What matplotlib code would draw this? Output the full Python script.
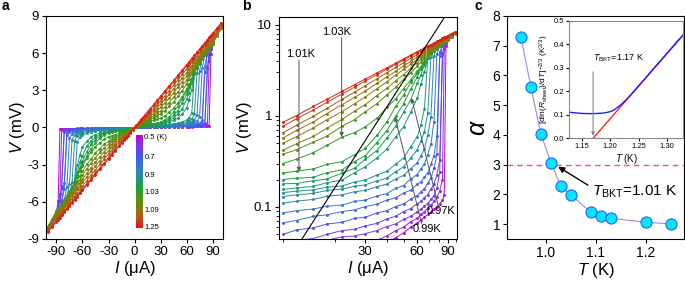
import numpy as np
import matplotlib
matplotlib.use("Agg")
import matplotlib.pyplot as plt
from matplotlib.colors import LinearSegmentedColormap
from matplotlib.ticker import FixedLocator, NullFormatter, LogLocator

plt.rcParams["font.family"] = ["Liberation Sans", "DejaVu Sans"]
plt.rcParams["mathtext.fontset"] = "custom"
plt.rcParams["mathtext.rm"] = "Liberation Sans"
plt.rcParams["mathtext.it"] = "Liberation Sans:italic"
plt.rcParams["mathtext.bf"] = "Liberation Sans:bold"
plt.rcParams["axes.unicode_minus"] = False

# ---- panel a / b : V-I curves (positive branch, a is mirrored) ----
I_uA = [2, 5, 8, 10, 12, 15, 18, 22, 26, 30, 35, 40, 45, 50, 55, 60, 63, 66,
        69, 72, 75, 78, 81, 84, 86, 88, 90, 95, 100]

v_050 = [0.004, 0.008, 0.012, 0.014, 0.016, 0.018, 0.02, 0.023, 0.026, 0.03, 0.035, 0.04, 0.046, 0.052, 0.06, 0.067, 0.072, 0.077, 0.083, 0.088, 0.094, 0.1, 0.108, 0.118, 0.135, 5.9, 6.9, 7.7, 8.2]
v_055 = [0.005, 0.01, 0.015, 0.018, 0.02, 0.023, 0.026, 0.03, 0.034, 0.038, 0.043, 0.048, 0.055, 0.06, 0.069, 0.075, 0.083, 0.088, 0.097, 0.104, 0.116, 0.128, 0.15, 0.2, 5.4, 6.4, 6.85, 7.6, 8.15]
v_060 = [0.006, 0.014, 0.025, 0.032, 0.036, 0.04, 0.043, 0.047, 0.048, 0.051, 0.055, 0.061, 0.065, 0.073, 0.079, 0.089, 0.094, 0.102, 0.109, 0.122, 0.133, 0.162, 0.24, 4.9, 5.9, 6.35, 6.75, 7.55, 8.1]
v_065 = [0.008, 0.018, 0.03, 0.038, 0.043, 0.045, 0.05, 0.055, 0.057, 0.062, 0.066, 0.074, 0.079, 0.089, 0.096, 0.109, 0.115, 0.127, 0.136, 0.157, 0.178, 0.225, 0.33, 4.7, 5.85, 6.35, 6.8, 7.55, 8.1]
v_070 = [0.01, 0.024, 0.04, 0.05, 0.056, 0.059, 0.065, 0.068, 0.075, 0.077, 0.086, 0.091, 0.101, 0.108, 0.122, 0.133, 0.147, 0.158, 0.182, 0.207, 0.265, 0.38, 4.5, 5.9, 6.3, 6.55, 6.85, 7.55, 8.1]
v_075 = [0.013, 0.032, 0.054, 0.067, 0.071, 0.079, 0.082, 0.089, 0.093, 0.101, 0.107, 0.119, 0.126, 0.142, 0.153, 0.178, 0.188, 0.213, 0.236, 0.295, 0.365, 0.6, 5.0, 6.0, 6.35, 6.6, 6.9, 7.6, 8.15]
v_080 = [0.017, 0.042, 0.07, 0.086, 0.091, 0.095, 0.102, 0.105, 0.115, 0.119, 0.132, 0.14, 0.16, 0.172, 0.203, 0.227, 0.263, 0.296, 0.375, 0.49, 0.86, 4.8, 5.85, 6.25, 6.5, 6.7, 6.95, 7.65, 8.2]
v_085 = [0.022, 0.055, 0.09, 0.11, 0.116, 0.121, 0.131, 0.136, 0.147, 0.152, 0.167, 0.178, 0.203, 0.222, 0.264, 0.305, 0.365, 0.435, 0.61, 0.98, 4.6, 5.6, 6.0, 6.35, 6.58, 6.78, 7.0, 7.7, 8.22]
v_090 = [0.026, 0.065, 0.105, 0.13, 0.136, 0.141, 0.152, 0.157, 0.169, 0.175, 0.193, 0.207, 0.244, 0.276, 0.345, 0.425, 0.53, 0.67, 1.07, 4.4, 5.4, 5.85, 6.15, 6.45, 6.65, 6.85, 7.05, 7.72, 8.25]
v_093 = [0.029, 0.072, 0.115, 0.144, 0.149, 0.154, 0.165, 0.17, 0.188, 0.198, 0.224, 0.246, 0.295, 0.344, 0.46, 0.59, 0.8, 1.18, 4.3, 5.3, 5.75, 6.05, 6.3, 6.55, 6.72, 6.9, 7.1, 7.75, 8.28]
v_095 = [0.031, 0.078, 0.125, 0.156, 0.162, 0.168, 0.185, 0.197, 0.238, 0.276, 0.345, 0.43, 0.59, 0.76, 1.1, 1.57, 2.25, 3.05, 4.3, 5.2, 5.7, 6.0, 6.3, 6.55, 6.72, 6.9, 7.1, 7.75, 8.3]
v_097 = [0.036, 0.09, 0.145, 0.18, 0.181, 0.194, 0.203, 0.235, 0.266, 0.335, 0.415, 0.57, 0.77, 1.1, 1.5, 2.28, 2.82, 3.62, 4.4, 5.05, 5.5, 5.85, 6.15, 6.45, 6.62, 6.8, 7.0, 7.7, 8.25]
v_099 = [0.04, 0.1, 0.16, 0.2, 0.207, 0.212, 0.238, 0.256, 0.315, 0.365, 0.51, 0.69, 0.99, 1.36, 1.97, 2.68, 3.27, 3.83, 4.47, 4.95, 5.4, 5.75, 6.05, 6.35, 6.55, 6.72, 6.92, 7.6, 8.2]
v_101 = [0.048, 0.12, 0.19, 0.237, 0.247, 0.262, 0.293, 0.315, 0.375, 0.44, 0.61, 0.86, 1.27, 1.7, 2.33, 2.93, 3.42, 3.88, 4.42, 4.85, 5.25, 5.6, 5.95, 6.25, 6.45, 6.62, 6.82, 7.5, 8.1]
v_103 = [0.06, 0.15, 0.24, 0.3, 0.335, 0.395, 0.475, 0.585, 0.655, 0.76, 0.94, 1.24, 1.54, 2.0, 2.48, 3.12, 3.48, 3.97, 4.36, 4.8, 5.13, 5.5, 5.85, 6.15, 6.35, 6.55, 6.75, 7.45, 8.05]
v_105 = [0.076, 0.19, 0.3, 0.38, 0.425, 0.515, 0.6, 0.77, 0.91, 1.11, 1.36, 1.7, 2.06, 2.52, 2.97, 3.55, 3.9, 4.32, 4.66, 5.03, 5.34, 5.67, 5.95, 6.22, 6.4, 6.58, 6.75, 7.4, 8.0]
v_107 = [0.084, 0.21, 0.34, 0.42, 0.495, 0.595, 0.735, 0.915, 1.13, 1.33, 1.67, 2.01, 2.43, 2.85, 3.35, 3.85, 4.21, 4.52, 4.87, 5.16, 5.48, 5.75, 6.04, 6.3, 6.48, 6.65, 6.82, 7.45, 8.02]
v_109 = [0.1, 0.25, 0.4, 0.5, 0.592, 0.738, 0.905, 1.115, 1.365, 1.615, 1.985, 2.365, 2.805, 3.245, 3.705, 4.175, 4.485, 4.765, 5.065, 5.345, 5.635, 5.895, 6.165, 6.415, 6.6, 6.77, 6.94, 7.5, 8.06]
v_111 = [0.114, 0.285, 0.46, 0.57, 0.692, 0.858, 1.062, 1.328, 1.602, 1.878, 2.272, 2.678, 3.102, 3.538, 3.982, 4.438, 4.722, 4.988, 5.262, 5.538, 5.802, 6.058, 6.322, 6.578, 6.75, 6.92, 7.1, 7.6, 8.1]
v_113 = [0.13, 0.325, 0.52, 0.65, 0.79, 0.99, 1.21, 1.52, 1.83, 2.14, 2.55, 2.98, 3.41, 3.84, 4.28, 4.72, 4.98, 5.25, 5.51, 5.77, 6.03, 6.29, 6.55, 6.81, 6.98, 7.15, 7.32, 7.76, 8.2]
v_120 = [0.154, 0.385, 0.62, 0.77, 0.93, 1.16, 1.41, 1.74, 2.07, 2.41, 2.83, 3.26, 3.68, 4.1, 4.53, 4.96, 5.22, 5.47, 5.73, 5.98, 6.23, 6.49, 6.74, 6.99, 7.16, 7.33, 7.5, 7.93, 8.36]
v_125 = [0.17, 0.42, 0.68, 0.85, 1.01, 1.27, 1.52, 1.86, 2.2, 2.54, 2.96, 3.38, 3.8, 4.22, 4.65, 5.07, 5.32, 5.58, 5.83, 6.08, 6.34, 6.59, 6.84, 7.1, 7.27, 7.44, 7.6, 8.03, 8.45]

T_K = [0.50, 0.55, 0.60, 0.65, 0.70, 0.75, 0.80, 0.85, 0.90, 0.93, 0.95,
       0.97, 0.99, 1.01, 1.03, 1.05, 1.07, 1.09, 1.11, 1.13, 1.20, 1.25]
curves = [v_050, v_055, v_060, v_065, v_070, v_075, v_080, v_085, v_090, v_093, v_095,
          v_097, v_099, v_101, v_103, v_105, v_107, v_109, v_111, v_113, v_120, v_125]

# colour bar labels
cbar_T = [0.5, 0.7, 0.9, 1.03, 1.09, 1.25]
cbar_labels = ["0.5 (K)", "0.7", "0.9", "1.03", "1.09", "1.25"]
cbar_pos = [0.02, 0.23, 0.43, 0.61, 0.80, 0.98]

# reference power-law line in b (V ~ I^3)
ref_I = [12.9, 86.5]
ref_V = [0.0445, 12.2]

# ---- panel c ----
T_c = [0.95, 0.97, 0.99, 1.01, 1.03, 1.05, 1.09, 1.11, 1.13, 1.20, 1.25]
alpha_c = [7.31, 5.62, 4.04, 3.07, 2.27, 1.98, 1.40, 1.27, 1.20, 1.06, 1.01]

# inset of c
T_in = [1.128, 1.135, 1.14, 1.15, 1.16, 1.17, 1.18, 1.19, 1.20, 1.205, 1.21, 1.215,
        1.22, 1.23, 1.24, 1.25, 1.26, 1.27, 1.28, 1.29, 1.30, 1.31, 1.32, 1.329]
y_in = [0.111, 0.109, 0.108, 0.106, 0.105, 0.105, 0.106, 0.108, 0.113, 0.118, 0.126, 0.135,
        0.145, 0.168, 0.195, 0.222, 0.25, 0.278, 0.306, 0.333, 0.361, 0.389, 0.417, 0.44]
T_fit = [1.17, 1.329]
y_fit = [0.0, 0.44]

cmap = LinearSegmentedColormap.from_list("tc", [
    (0.0, "#c000c8"), (0.10, "#8a30e8"), (0.20, "#5050f0"), (0.30, "#3a6ee0"),
    (0.40, "#2a88b0"), (0.48, "#1a9a80"), (0.58, "#20a030"), (0.70, "#5a9010"),
    (0.80, "#8a7a10"), (0.90, "#c05020"), (1.0, "#e81010")])
colors = [cmap(np.interp(t, cbar_T, cbar_pos)) for t in T_K]

I = np.array(I_uA, dtype=float)

fig = plt.figure(figsize=(6.85, 2.81), dpi=100)

# ---------------- a ----------------
axa = fig.add_axes([0.0672, 0.1495, 0.2584, 0.7936])
for v, c in zip(curves, colors):
    v = np.array(v)
    Ia = np.concatenate([-I[::-1], [0], I])
    Va = np.concatenate([-v[::-1], [0], v])
    axa.plot(Ia, Va, "-", marker=".", ms=2.2, lw=0.7, color=c)
axa.set_xlim(-102, 102)
axa.set_ylim(-9, 9)
axa.set_xticks([-90, -60, -30, 0, 30, 60, 90])
axa.set_yticks([-9, -6, -3, 0, 3, 6, 9])
axa.tick_params(labelsize=9.5, length=3, direction="out", pad=2)
axa.set_xlabel(r"$I$ (μA)", fontsize=12, labelpad=1)
axa.set_ylabel(r"$V$ (mV)", fontsize=12, labelpad=0)

cax = fig.add_axes([136 / 685, 1 - 228 / 281, 7 / 685, 93 / 281])
cax.imshow(np.linspace(0, 1, 256)[:, None], aspect="auto", cmap=cmap,
           extent=[0, 1, 1, 0])
cax.set_xticks([])
cax.yaxis.tick_right()
cax.set_yticks(cbar_pos)
cax.set_yticklabels(cbar_labels)
cax.tick_params(axis="y", length=0, labelsize=5.5, pad=1)
for s in cax.spines.values():
    s.set_visible(False)

# ---------------- b ----------------
axb = fig.add_axes([0.4073, 0.1495, 0.2599, 0.79])
for v, c in zip(curves, colors):
    axb.plot(I[3:], np.array(v)[3:], "-", marker=".", ms=2.2, lw=0.7, color=c)
axb.plot(ref_I, ref_V, color="black", lw=0.8)
axb.set_xscale("log")
axb.set_yscale("log")
axb.set_xlim(9.5, 102)
axb.set_ylim(0.0445, 12.2)
axb.xaxis.set_major_locator(FixedLocator([30, 60, 90]))
axb.xaxis.set_minor_locator(FixedLocator([10, 20, 40, 50, 70, 80, 100]))
axb.xaxis.set_minor_formatter(NullFormatter())
axb.set_xticklabels(["30", "60", "90"])
axb.yaxis.set_major_locator(FixedLocator([0.1, 1, 10]))
axb.yaxis.set_minor_locator(LogLocator(subs=np.arange(2, 10)))
axb.yaxis.set_minor_formatter(NullFormatter())
axb.set_yticklabels(["0.1", "1", "10"])
axb.tick_params(which="both", labelsize=9.5, direction="out", pad=2)
axb.tick_params(which="major", length=3)
axb.tick_params(which="minor", length=2)
axb.set_xlabel(r"$I$ (μA)", fontsize=12, labelpad=1)
axb.set_ylabel(r"$V$ (mV)", fontsize=12, labelpad=0)

arr = dict(arrowstyle="-|>", color="#555555", lw=0.7, mutation_scale=6,
           shrinkA=0, shrinkB=0)
axb.text(10.5, 4.8, "1.01K", fontsize=8, va="center")
axb.annotate("", xy=(12.4, 0.244), xytext=(12.4, 4.1), arrowprops=arr)
axb.text(16.8, 8.4, "1.03K", fontsize=8, va="center")
axb.annotate("", xy=(21.9, 0.59), xytext=(21.9, 7.2), arrowprops=arr)
axb.text(67.9, 0.091, "0.97K", fontsize=8, va="center")
axb.annotate("", xy=(55.7, 1.56), xytext=(79.3, 0.105), arrowprops=arr)
axb.text(56.8, 0.057, "0.99K", fontsize=8, va="center")
axb.annotate("", xy=(44.6, 0.98), xytext=(63.6, 0.066), arrowprops=arr)

# ---------------- c ----------------
axc = fig.add_axes([0.7406, 0.1495, 0.258, 0.7936])
axc.axhline(3, color="#ff5050", lw=1.0, ls=(0, (4, 3)), zorder=1)
axc.plot(T_c, alpha_c, "-", color="#8c8cff", lw=0.8, zorder=2)
axc.plot(T_c, alpha_c, "o", ms=8, mfc="#00e8ff", mec="#2a5cff", mew=0.8, zorder=3)
axc.set_xlim(0.923, 1.276)
axc.set_ylim(0.5, 8.0)
axc.set_xticks([1.0, 1.1, 1.2])
axc.set_xticklabels(["1.0", "1.1", "1.2"])
axc.set_yticks(range(1, 9))
axc.tick_params(labelsize=10, length=3, direction="out", pad=2)
axc.set_xlabel(r"$T$ (K)", fontsize=12, labelpad=1)
axc.set_ylabel(r"$\alpha$", fontsize=18, labelpad=2)
axc.annotate(r"$T_{\mathrm{BKT}}$=1.01 K", xy=(1.0245, 2.93), xytext=(1.092, 2.09),
             fontsize=11, va="center", ha="left",
             arrowprops=dict(arrowstyle="-|>", color="black", lw=1.0,
                             mutation_scale=9, shrinkA=1, shrinkB=0,
                             relpos=(0, 0.75)))

axi = fig.add_axes([0.8307, 0.5078, 0.1669, 0.4185])
axi.plot(T_fit, y_fit, color="#ff2020", lw=1.0)
axi.plot(T_in, y_in, color="#2020ff", lw=1.0)
axi.set_xlim(1.1276, 1.329)
axi.set_ylim(0, 0.5)
axi.set_xticks([1.15, 1.20, 1.25, 1.30])
axi.set_xticklabels(["1.15", "1.20", "1.25", "1.30"])
axi.set_yticks([0.0, 0.1, 0.2, 0.3, 0.4, 0.5])
axi.set_yticklabels(["0.0", "0.1", "0.2", "0.3", "0.4", "0.5"])
axi.tick_params(labelsize=5.5, length=2, pad=1.5)
for s in axi.spines.values():
    s.set_color("#888888")
axi.set_xlabel(r"$T$ (K)", fontsize=7, labelpad=1)
axi.set_ylabel(r"[dln($R_{\mathrm{sheet}}$)/d$T$]$^{-2/3}$ (K$^{2/3}$)", fontsize=6, labelpad=2)
axi.text(1.169, 0.34, r"$T_{\mathrm{BKT}}$=1.17 K", fontsize=6.5, va="center")
axi.annotate("", xy=(1.17, 0.01), xytext=(1.17, 0.283),
             arrowprops=dict(arrowstyle="-|>", color="#888888", lw=0.8,
                             mutation_scale=5, shrinkA=0, shrinkB=0))

fig.text(0.003, 0.978, "a", fontsize=10, fontweight="bold", va="center")
fig.text(0.353, 0.978, "b", fontsize=10, fontweight="bold", va="center")
fig.text(0.693, 0.978, "c", fontsize=10, fontweight="bold", va="center")

fig.savefig("out.png", dpi=100)
